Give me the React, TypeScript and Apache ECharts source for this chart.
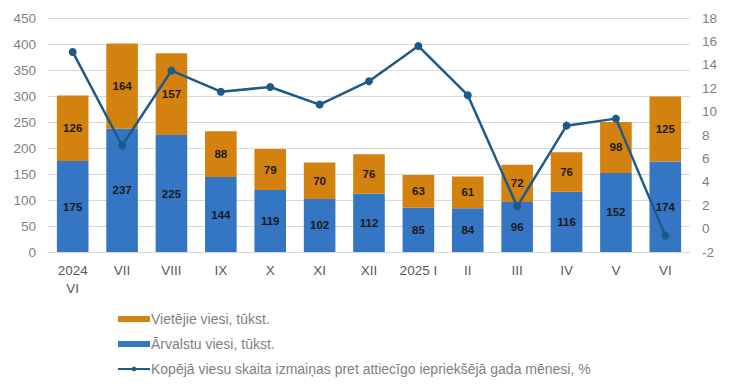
import React, { useEffect, useRef } from "react";
import * as echarts from "echarts";

const categories = ["2024\nVI", "VII", "VIII", "IX", "X", "XI", "XII", "2025 I", "II", "III", "IV", "V", "VI"];
const foreignGuests = [175, 237, 225, 144, 119, 102, 112, 85, 84, 96, 116, 152, 174];
const localGuests = [126, 164, 157, 88, 79, 70, 76, 63, 61, 72, 76, 98, 125];
const changePct = [15.1, 7.1, 13.5, 11.7, 12.1, 10.6, 12.6, 15.6, 11.4, 1.9, 8.8, 9.4, -0.6];

const leftTicks = { min: 0, max: 450, interval: 50 };
const rightTicks = { min: -2, max: 18, interval: 2 };

const FONT = "Liberation Sans, Arial, sans-serif";

export default function App() {
  const ref = useRef<HTMLDivElement>(null);
  useEffect(() => {
    if (!ref.current) return;
    const chart = echarts.init(ref.current, undefined, { renderer: "svg" });
    const labelStyle = {
      show: true,
      position: "inside" as const,
      color: "#1a1a1a",
      fontWeight: "bold" as const,
      fontSize: 11.5,
      fontFamily: FONT,
    };
    chart.setOption({
      animation: false,
      textStyle: { fontFamily: FONT },
      grid: { left: 48, right: 40, top: 18, bottom: 139, containLabel: false },
      legend: {
        orient: "vertical",
        left: 117,
        top: 312,
        padding: 0,
        itemWidth: 32,
        itemHeight: 6,
        itemGap: 11,
        textStyle: { color: "#7f7f7f", fontSize: 14, fontFamily: FONT, padding: [0, 0, 0, -4] },
        data: [
          { name: "Vietējie viesi, tūkst.", icon: "rect" },
          { name: "Ārvalstu viesi, tūkst.", icon: "rect" },
          { name: "Kopējā viesu skaita izmaiņas pret attiecīgo iepriekšējā gada mēnesi, %" },
        ],
      },
      xAxis: {
        type: "category",
        data: categories,
        axisLine: { show: true, lineStyle: { color: "#d9d9d9" } },
        axisTick: { show: false },
        axisLabel: { color: "#595959", fontSize: 13.5, fontFamily: FONT, margin: 9, lineHeight: 18, interval: 0 },
      },
      yAxis: [
        {
          type: "value",
          ...leftTicks,
          axisLine: { show: false },
          axisTick: { show: false },
          splitLine: { lineStyle: { color: "#d9d9d9" } },
          axisLabel: { color: "#7f7f7f", fontSize: 13.5, fontFamily: FONT, margin: 12 },
        },
        {
          type: "value",
          ...rightTicks,
          axisLine: { show: false },
          axisTick: { show: false },
          splitLine: { show: false },
          axisLabel: { color: "#7f7f7f", fontSize: 13.5, fontFamily: FONT, margin: 12 },
        },
      ],
      series: [
        {
          name: "Ārvalstu viesi, tūkst.",
          type: "bar",
          stack: "total",
          data: foreignGuests,
          barWidth: "64%",
          itemStyle: { color: "#3475c4" },
          label: labelStyle,
        },
        {
          name: "Vietējie viesi, tūkst.",
          type: "bar",
          stack: "total",
          data: localGuests,
          barWidth: "64%",
          itemStyle: { color: "#d4820f" },
          label: labelStyle,
        },
        {
          name: "Kopējā viesu skaita izmaiņas pret attiecīgo iepriekšējā gada mēnesi, %",
          type: "line",
          yAxisIndex: 1,
          data: changePct,
          symbol: "circle",
          symbolSize: 8,
          lineStyle: { color: "#1d5a8a", width: 2.5 },
          itemStyle: { color: "#1d5a8a" },
        },
      ],
    });
    return () => chart.dispose();
  }, []);
  return <div ref={ref} style={{ width: 730, height: 391, margin: -8 }} />;
}
